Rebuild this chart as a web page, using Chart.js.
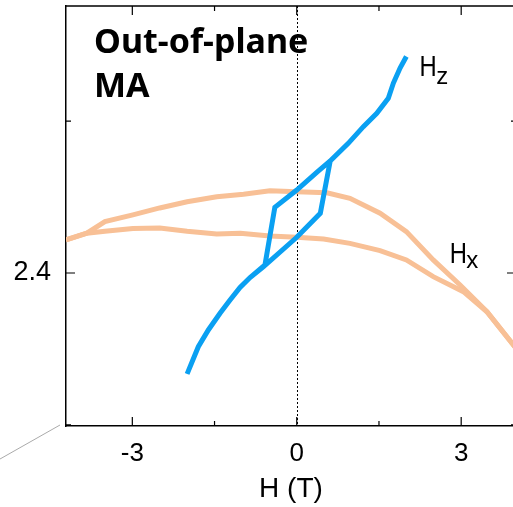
<!DOCTYPE html>
<html>
<head>
<meta charset="utf-8">
<script src="https://cdn.jsdelivr.net/npm/chart.js@4.4.1/dist/chart.umd.min.js"></script>
<style>
  html, body { margin: 0; padding: 0; background: #fff; overflow: hidden; }
  #wrap { width: 517px; height: 507px; }
</style>
</head>
<body>
<div id="wrap"><canvas id="myChart"></canvas></div>
<script>
// H_z loop (out-of-plane field): down sweep then up sweep
var hzX = [2.0, 1.885, 1.763, 1.67, 1.46, 1.215, 0.94, 0.61, 0.37, 0.0, -0.40,
           -0.58, -0.852, -1.035, -1.217, -1.40, -1.613, -1.796, -2.0,
           -1.796, -1.613, -1.40, -1.217, -1.035, -0.852, -0.61, 0.0, 0.43,
           0.61, 0.94, 1.215, 1.46, 1.67, 1.763, 1.885, 2.0];
var hzY = [2.5425, 2.5349, 2.5250, 2.5150, 2.5051, 2.4963, 2.4853, 2.4737, 2.4664, 2.4546, 2.4432,
           2.4053, 2.3970, 2.3905, 2.3822, 2.3735, 2.3625, 2.3515, 2.3336,
           2.3515, 2.3625, 2.3735, 2.3822, 2.3905, 2.3970, 2.4041, 2.4235, 2.4393,
           2.4737, 2.4853, 2.4963, 2.5051, 2.5150, 2.5250, 2.5349, 2.5425];

// H_x curve (in-plane field): two branches
var hxUpX = [-4.21, -3.83, -3.5, -2.99, -2.5, -2.0, -1.46, -0.97, -0.49, 0.0, 0.55, 0.97, 1.52, 2.0, 2.49, 2.98, 3.47, 4.0];
var hxUpY = [2.4218, 2.4262, 2.4338, 2.4382, 2.4428, 2.4469, 2.4502, 2.4518, 2.4541, 2.4535, 2.4528, 2.4491, 2.4393, 2.4272, 2.4086, 2.3921, 2.3745, 2.3505];
var hxDnX = [-4.21, -3.83, -3.5, -2.99, -2.5, -2.0, -1.46, -1.03, -0.49, 0.0, 0.49, 0.97, 1.52, 2.0, 2.49, 3.04, 3.47, 4.0];
var hxDnY = [2.4218, 2.4262, 2.4275, 2.4292, 2.4296, 2.4275, 2.4257, 2.4261, 2.4243, 2.4235, 2.4224, 2.4195, 2.4147, 2.4086, 2.3976, 2.3877, 2.3745, 2.3505];

var xTicks = [-3, -1.5, 0, 1.5, 3];
var xTickLabels = ['-3', '', '0', '', '3'];
var yTicks = [2.3, 2.4, 2.5];
var yTickLabels = ['', '2.4', ''];

function pts(xs, ys) {
    return xs.map(function (x, i) { return {x: x, y: ys[i]}; });
}

var BLUE = '#0aa0f2';
var ORANGE = '#f8c096';

// inward ticks, top/right frame, zero line, annotations
var extras = {
    id: 'extras',
    beforeDatasetsDraw: function (chart) {
        var c = chart.ctx, a = chart.chartArea, sx = chart.scales.x;
        c.save();
        // dotted zero line
        c.strokeStyle = '#000';
        c.lineWidth = 1;
        c.setLineDash([2, 2]);
        var x0 = Math.round(sx.getPixelForValue(0)) + 0.5;
        c.beginPath();
        c.moveTo(x0, a.top);
        c.lineTo(x0, a.bottom);
        c.stroke();
        c.restore();
    },
    afterDraw: function (chart) {
        var c = chart.ctx, a = chart.chartArea, sx = chart.scales.x, sy = chart.scales.y;
        c.save();
        c.strokeStyle = '#000';
        c.lineWidth = 1.5;
        c.beginPath();
        c.moveTo(a.left, a.top);
        c.lineTo(a.right, a.top);
        c.lineTo(a.right, a.bottom);
        c.stroke();

        c.lineWidth = 1.2;
        xTicks.forEach(function (v, i) {
            var p = sx.getPixelForValue(v);
            var len = xTickLabels[i] ? 9 : 5;
            c.beginPath();
            c.moveTo(p, a.bottom); c.lineTo(p, a.bottom - len);
            c.moveTo(p, a.top); c.lineTo(p, a.top + len);
            c.stroke();
        });
        yTicks.forEach(function (v, i) {
            var p = sy.getPixelForValue(v);
            var len = yTickLabels[i] ? 9 : 5;
            c.beginPath();
            c.moveTo(a.left, p); c.lineTo(a.left + len, p);
            c.moveTo(a.right, p); c.lineTo(a.right - len, p);
            c.stroke();
        });

        // grey pointer line at lower left
        c.strokeStyle = '#aaaaaa';
        c.lineWidth = 1;
        c.beginPath();
        c.moveTo(a.left - 6, a.bottom - 1);
        c.lineTo(0, a.bottom + 33);
        c.stroke();

        // panel title
        c.fillStyle = '#000';
        c.font = 'bold 34px "Noto Sans"';
        c.textBaseline = 'alphabetic';
        c.textAlign = 'left';
        c.fillText('Out-of-plane', a.left + 28, a.top + 47);
        c.fillText('MA', a.left + 28, a.top + 91);

        // curve labels (narrow H with a large subscript, as in the figure)
        function hLabel(x, y, sub, drop) {
            var px = sx.getPixelForValue(x), py = sy.getPixelForValue(y);
            c.save();
            c.translate(px, py);
            c.scale(0.82, 1);
            c.font = '29px "Liberation Sans"';
            c.fillText('H', 0, 0);
            var w = c.measureText('H').width * 0.82;
            c.restore();
            c.font = '24px "Liberation Sans"';
            c.fillText(sub, px + w - 0.5, py + drop);
        }
        hLabel(2.24, 2.5296, 'z', 8);
        hLabel(2.79, 2.4064, 'x', 5);
        c.restore();
    }
};

var ctx = document.getElementById('myChart').getContext('2d');
var myChart = new Chart(ctx, {
    type: 'scatter',
    data: {
        datasets: [{
            label: 'Hz',
            data: pts(hzX, hzY),
            showLine: true,
            borderColor: BLUE,
            borderWidth: 5,
            pointRadius: 0,
            tension: 0
        }, {
            label: 'Hx up',
            data: pts(hxUpX, hxUpY),
            showLine: true,
            borderColor: ORANGE,
            borderWidth: 5,
            pointRadius: 0,
            tension: 0
        }, {
            label: 'Hx down',
            data: pts(hxDnX, hxDnY),
            showLine: true,
            borderColor: ORANGE,
            borderWidth: 5,
            pointRadius: 0,
            tension: 0
        }]
    },
    options: {
        responsive: true,
        maintainAspectRatio: false,
        animation: false,
        layout: { padding: { top: 6, right: 1, left: 0, bottom: 0 } },
        plugins: {
            legend: { display: false },
            tooltip: { enabled: false }
        },
        scales: {
            x: {
                type: 'linear',
                min: -4.21,
                max: 4.0,
                afterBuildTicks: function (s) { s.ticks = xTicks.map(function (v) { return {value: v}; }); },
                afterFit: function (s) { s.height = 81; s.paddingLeft = 0; s.paddingRight = 0; },
                grid: { display: false, drawTicks: false },
                border: { display: true, color: '#000', width: 1.5 },
                ticks: {
                    autoSkip: false,
                    maxRotation: 0,
                    padding: 12,
                    color: '#000',
                    font: { family: '"Liberation Sans"', size: 26 },
                    callback: function (v, i) { return xTickLabels[i]; }
                },
                title: {
                    display: true,
                    text: 'H (T)',
                    color: '#000',
                    font: { family: '"Liberation Sans"', size: 28 },
                    padding: { top: 0, bottom: 1 }
                }
            },
            y: {
                type: 'linear',
                min: 2.2993,
                max: 2.5757,
                afterBuildTicks: function (s) { s.ticks = yTicks.map(function (v) { return {value: v}; }); },
                afterFit: function (s) { s.width = 66; s.paddingTop = 0; s.paddingBottom = 0; },
                grid: { display: false, drawTicks: false },
                border: { display: true, color: '#000', width: 1.5 },
                ticks: {
                    autoSkip: false,
                    padding: 15,
                    color: '#000',
                    font: { family: '"Liberation Sans"', size: 27 },
                    callback: function (v, i) { return yTickLabels[i]; }
                }
            }
        }
    },
    plugins: [extras]
});
</script>
</body>
</html>
